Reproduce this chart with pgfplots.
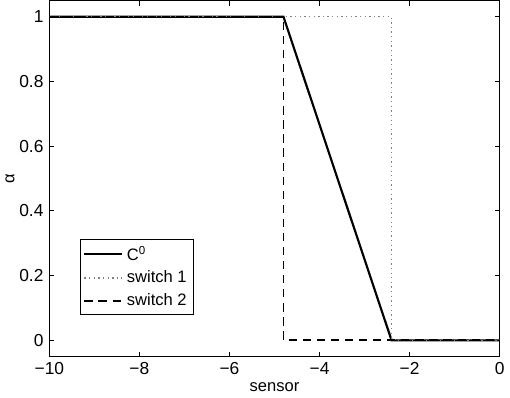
\documentclass[border=0pt]{standalone}
\usepackage{pgfplots}
\pgfplotsset{compat=1.18}
\usepackage{fontspec}
\setmainfont{Liberation Sans}
\begin{document}
\begin{tikzpicture}
\begin{axis}[
  scale only axis,
  width=272pt, height=215pt,
  xmin=-10, xmax=0, ymin=-0.05, ymax=1.05,
  xtick={-10,-8,-6,-4,-2,0},
  xticklabels={−10,−8,−6,−4,−2,0},
  ytick={0,0.2,0.4,0.6,0.8,1},
  yticklabels={0,0.2,0.4,0.6,0.8,1},
  tick align=inside,
  major tick length=3pt,
  tick style={black, line width=0.5pt},
  axis line style={line width=0.7pt},
  xlabel={sensor}, ylabel={α},
  xlabel style={yshift=2pt},
  ylabel style={yshift=-4pt},
  ticklabel style={font=\fontsize{10.5}{12}\selectfont},
  label style={font=\fontsize{10}{12}\selectfont},
  legend style={at={(0.067,0.116)}, anchor=south west, draw=black, line width=0.6pt,
    font=\fontsize{10}{12}\selectfont, row sep=1pt, inner sep=2pt},
  legend cell align=left,
  legend image code/.code={\draw[#1] (0pt,0pt) -- (23pt,0pt);},
]
\addplot[black, line width=1.3pt] coordinates {(-10,1) (-4.8,1) (-2.4,0) (0,0)};
\addlegendentry{C\textsuperscript{0}}
\addplot[gray, dotted, line width=0.8pt] coordinates {(-10,1) (-2.4,1) (-2.4,0) (0,0)};
\addlegendentry{switch 1}
\addplot[black, dash pattern=on 5pt off 3.5pt, line width=1.1pt] coordinates {(-10,1) (-4.8,1) (-4.8,0) (0,0)};
\addlegendentry{switch 2}
\end{axis}
\end{tikzpicture}
\end{document}
